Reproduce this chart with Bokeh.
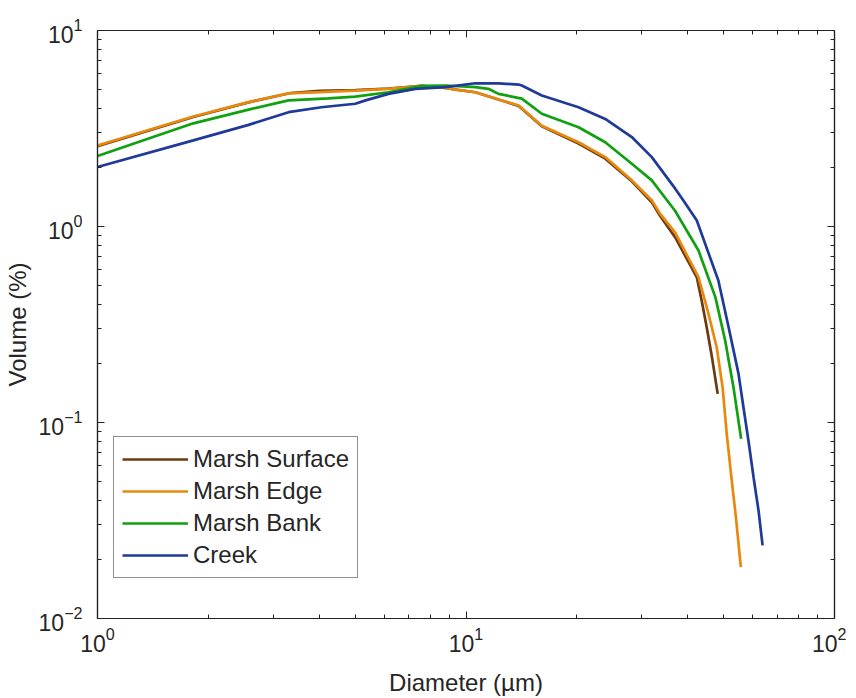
from bokeh.plotting import figure
from bokeh.models import (Range1d, FixedTicker, LogAxis, CustomJSTickFormatter, Legend, LegendItem)
from bokeh.embed import file_html
from bokeh.resources import INLINE

# ---- data ----
surface_d = [1.0, 1.82, 2.57, 3.34, 4.0, 5.01, 6.16, 7.57, 8.8, 9.5, 10.6, 12.25, 13.9, 16.06, 20.2,
             23.87, 28.18, 31.93, 33.65, 36.96, 42.3, 43.6, 45.0, 46.5, 48.2]
surface_v = [2.57, 3.62, 4.30, 4.80, 4.92, 4.96, 5.06, 5.22, 5.09, 4.98, 4.84, 4.45, 4.12, 3.25, 2.65,
             2.22, 1.70, 1.33, 1.13, 0.88, 0.551, 0.419, 0.306, 0.2155, 0.140]

edge_d = [1.0, 1.82, 2.57, 3.30, 4.0, 5.01, 6.16, 7.57, 8.8, 9.5, 10.6, 12.25, 13.9, 16.06, 20.2,
          23.87, 28.18, 31.93, 33.65, 36.96, 42.75, 45.5, 47.9, 49.7, 51.0, 52.5, 54.0, 55.7]
edge_v = [2.59, 3.64, 4.31, 4.78, 4.85, 4.94, 5.04, 5.22, 5.09, 4.98, 4.84, 4.45, 4.14, 3.27, 2.69,
          2.26, 1.72, 1.36, 1.16, 0.93, 0.551, 0.359, 0.242, 0.151, 0.0876, 0.0526, 0.0329, 0.0183]

bank_d = [1.0, 1.82, 2.57, 3.30, 4.23, 5.01, 6.16, 7.57, 8.8, 10.6, 11.5, 12.25, 14.17, 16.06, 20.2,
          23.87, 28.18, 31.93, 36.96, 42.75, 47.5, 50.5, 53.2, 55.8]
bank_v = [2.29, 3.36, 3.95, 4.40, 4.50, 4.60, 4.84, 5.22, 5.24, 5.14, 5.04, 4.75, 4.49, 3.76, 3.21,
          2.69, 2.09, 1.72, 1.20, 0.754, 0.436, 0.262, 0.151, 0.0826]

creek_d = [1.0, 1.82, 2.57, 3.30, 4.05, 5.01, 5.34, 6.16, 7.29, 8.8, 10.6, 12.25, 13.9, 14.17, 16.06,
           20.2, 23.87, 28.18, 31.93, 36.96, 38.9, 42.3, 48.4, 51.6, 54.9, 56.6, 58.4, 60.3, 62.2, 63.8]
creek_v = [2.01, 2.75, 3.30, 3.83, 4.06, 4.23, 4.40, 4.75, 5.04, 5.14, 5.38, 5.37, 5.30, 5.24, 4.66,
           4.06, 3.54, 2.86, 2.26, 1.56, 1.358, 1.073, 0.530, 0.306, 0.177, 0.120, 0.0809, 0.0526, 0.0356, 0.0236]

series_names = ["Marsh Surface", "Marsh Edge", "Marsh Bank", "Creek"]
series_colors = ["#6B3A10", "#E8890E", "#10A010", "#1F3A98"]

x_major = [1, 10, 100]
x_minor = [2, 3, 4, 5, 6, 7, 8, 9, 20, 30, 40, 50, 60, 70, 80, 90]
y_major = [0.01, 0.1, 1, 10]
y_minor = [0.02, 0.03, 0.04, 0.05, 0.06, 0.07, 0.08, 0.09,
           0.2, 0.3, 0.4, 0.5, 0.6, 0.7, 0.8, 0.9,
           2, 3, 4, 5, 6, 7, 8, 9]

FONT = "Liberation Sans"
FS = "23px"
FS_LAB = "24px"
TXT = "#262626"

p = figure(x_axis_type="log", y_axis_type="log",
           x_range=Range1d(1, 100), y_range=Range1d(0.01, 10),
           frame_width=737, frame_height=588,
           min_border_left=91, min_border_right=12, min_border_top=30, min_border_bottom=64,
           output_backend="svg", toolbar_location=None)

p.xgrid.visible = False
p.ygrid.visible = False
p.outline_line_color = "#222222"
p.outline_line_width = 1.2
p.background_fill_color = "white"
p.border_fill_color = "white"


def style_axis(ax, major, minor):
    ax.ticker = FixedTicker(ticks=major, minor_ticks=minor)
    ax.axis_line_color = "#222222"
    ax.axis_line_width = 1.2
    ax.major_tick_line_color = "#222222"
    ax.minor_tick_line_color = "#222222"
    ax.major_tick_in = 7
    ax.major_tick_out = 0
    ax.minor_tick_in = 4
    ax.minor_tick_out = 0
    ax.major_label_text_font = FONT
    ax.major_label_text_font_size = FS
    ax.major_label_text_color = TXT
    ax.axis_label_text_font = FONT
    ax.axis_label_text_font_size = FS_LAB
    ax.axis_label_text_font_style = "normal"
    ax.axis_label_text_color = TXT


style_axis(p.xaxis[0], x_major, x_minor)
style_axis(p.yaxis[0], y_major, y_minor)
p.xaxis[0].axis_label = "Diameter (µm)"
p.yaxis[0].axis_label = "Volume (%)"
p.xaxis[0].major_label_standoff = 8
p.xaxis[0].axis_label_standoff = 14
p.yaxis[0].major_label_standoff = 15
p.yaxis[0].axis_label_standoff = 5

blank = CustomJSTickFormatter(code="return ''")
top_ax = LogAxis()
style_axis(top_ax, x_major, x_minor)
top_ax.formatter = blank
top_ax.major_label_standoff = 0
p.add_layout(top_ax, "above")
right_ax = LogAxis()
style_axis(right_ax, y_major, y_minor)
right_ax.formatter = blank
right_ax.major_label_standoff = 0
p.add_layout(right_ax, "right")

data = [(surface_d, surface_v), (edge_d, edge_v), (bank_d, bank_v), (creek_d, creek_v)]
items = []
for (d, v), name, col in zip(data, series_names, series_colors):
    r = p.line(d, v, line_color=col, line_width=2.7)
    items.append(LegendItem(label=name, renderers=[r]))

legend = Legend(items=items, location=(16, 40),
                label_text_font=FONT, label_text_font_size=FS_LAB, label_text_color=TXT,
                glyph_width=66, glyph_height=20, label_height=20, label_standoff=5,
                spacing=4, padding=8, margin=0,
                border_line_color="#222222", border_line_width=1.5,
                background_fill_color="white", background_fill_alpha=1.0)
p.add_layout(legend, "center")

open("out.html", "w").write(file_html(p, INLINE))
